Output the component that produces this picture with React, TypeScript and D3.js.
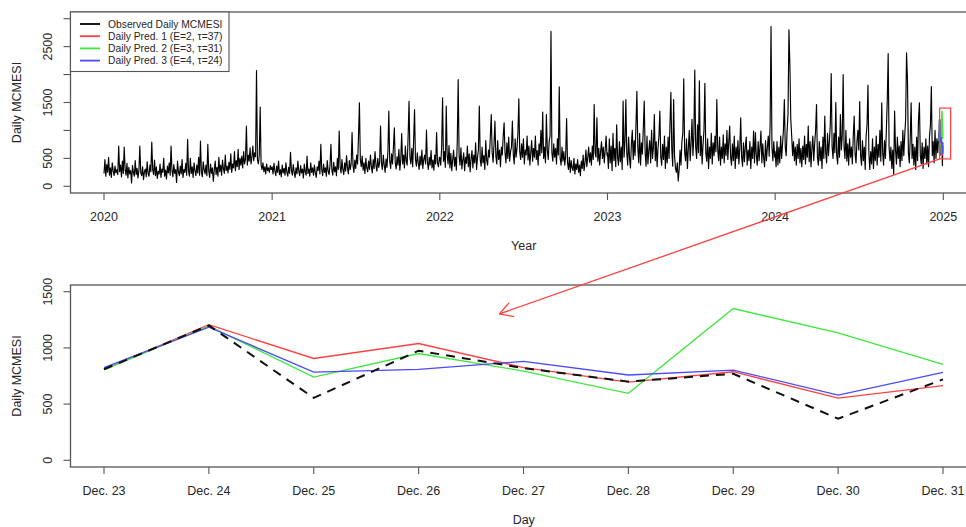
import React from 'react';
import * as d3 from 'd3';

// ---------- DATA ----------
const YEARS = [2020, 2021, 2022, 2023, 2024];
const obs2020 = [
  230,480,180,390,250,520,200,330,160,420,280,190,360,240,300,
  210,720,260,380,170,450,230,700,300,200,410,150,340,220,280,
  60,370,250,180,460,210,320,150,280,720,240,190,350,120,260,
  310,170,440,230,180,380,260,790,300,210,470,190,350,140,270,
  220,400,160,310,250,500,180,290,130,360,240,420,200,720,280,
  170,390,230,300,70,450,260,190,360,220,480,160,300,250,410,
  200,840,270,180,500,230,350,160,420,280,190,380,240,520,200,
  810,260,170,440,300,220,380,190,750,280,160,400,230,330,90,
  290,450,210,340,180,520,260,380,200,470,310,230,560,280,360,
  240,430,300,580,250,400,330,620,280,460,350,660,300,500,380,
  540,330,620,400,480,1080,380,560,450,690,400,520,720,460,600,
  530,2070,480,400,560,1420,380,300,420,260,350,220,400,280,330,
  250,370,300,
];
const obs2021 = [
  350,220,410,280,190,360,250,450,210,300,170,380,240,320,200,
  420,260,180,340,230,610,280,200,390,250,160,330,220,450,270,
  190,370,240,310,150,400,260,200,540,230,310,180,420,250,330,
  200,380,240,160,350,280,450,220,750,300,190,400,250,330,180,
  460,270,210,380,750,290,200,430,260,350,190,500,300,990,350,
  240,480,300,210,420,270,550,330,220,460,300,400,960,380,250,
  470,320,560,400,900,1495,480,350,540,290,420,230,500,330,260,
  450,300,560,350,240,480,320,620,380,270,500,340,430,1077,400,
  300,560,380,250,490,340,620,1345,450,320,580,400,700,1048,420,
  310,530,380,660,290,480,946,400,560,330,720,450,380,900,1523,
  520,400,680,350,820,1375,480,360,600,420,300,540,380,650,320,
  480,560,400,1005,430,300,520,380,640,330,470,290,560,400,960,
  420,350,520,
];
const obs2022 = [
  520,380,700,1583,450,620,340,1434,560,400,730,330,590,280,480,
  650,360,520,290,800,1910,540,380,690,310,470,600,280,520,410,
  720,350,580,260,490,640,330,560,420,780,300,510,650,1434,480,
  360,700,420,550,300,820,470,380,650,520,900,1285,600,430,760,
  1166,540,400,820,480,650,350,700,560,900,1137,600,420,780,500,
  880,450,620,700,1166,560,400,850,520,680,950,1566,620,480,760,
  520,850,400,650,560,900,470,720,380,600,820,450,680,520,900,
  480,640,380,760,550,1000,600,1327,500,700,420,1285,650,480,800,
  900,2773,600,450,760,520,680,400,850,560,1780,500,380,700,450,
  620,380,550,1214,420,300,520,250,460,330,280,500,220,400,300,
  480,250,380,190,450,320,560,280,420,650,350,520,700,430,600,
  380,720,480,1464,600,520,1226,450,680,380,620,800,500,700,420,
  650,900,550,
];
const obs2023 = [
  600,320,850,420,720,280,950,460,680,350,1100,520,380,800,440,
  700,300,1524,520,800,1553,600,380,880,500,330,760,1000,480,820,
  550,1100,1702,700,420,950,380,780,580,1050,1524,600,360,900,400,
  650,820,420,1000,500,700,1285,460,800,350,680,900,1345,520,380,
  750,480,900,320,700,420,880,500,1100,1680,650,360,1553,550,320,
  250,420,95,300,650,380,800,950,1923,600,460,850,320,680,1000,
  460,780,1200,550,900,2080,700,500,1100,600,1890,550,900,400,750,
  1000,1845,600,450,850,320,700,500,950,400,780,550,900,620,1553,
  650,460,880,380,700,500,920,420,760,550,1000,480,800,1077,520,
  380,760,460,900,320,700,500,820,400,680,1226,520,360,780,440,
  700,880,380,650,460,800,320,700,500,990,420,960,550,380,800,
  460,700,990,420,760,500,350,820,460,700,900,540,1100,2860,700,
  460,800,520,
];
const obs2024 = [
  620,350,800,380,700,420,900,500,750,1000,1553,700,550,1000,1300,
  2800,2200,1200,900,550,800,460,700,380,750,500,850,420,680,350,
  720,480,900,400,750,520,1077,440,800,350,680,900,460,760,1000,
  1464,520,380,800,460,700,320,880,500,1255,600,420,950,550,800,
  1100,2018,700,500,950,600,1500,550,400,880,520,1285,650,900,2000,
  700,500,1000,450,760,380,850,520,700,400,900,1255,580,420,800,
  1000,650,1515,550,380,820,460,700,300,900,1100,1810,600,300,620,
  400,850,320,700,460,900,380,750,520,1000,450,1494,600,380,820,
  500,1000,1524,2375,700,460,700,320,650,214,1345,650,400,880,500,
  720,350,800,460,1000,550,900,1200,2387,1910,600,420,850,1494,500,
  750,380,700,300,880,460,1196,1494,550,400,780,320,700,500,850,
  400,720,350,900,1100,1785,550,800,420,1000,500,850,600,950,
];

// Last 9 days (Dec 23 – Dec 31, 2024)
const DAY_LABELS = ['Dec. 23','Dec. 24','Dec. 25','Dec. 26','Dec. 27','Dec. 28','Dec. 29','Dec. 30','Dec. 31'];
const observedDec = [810, 1200, 555, 975, 820, 700, 770, 370, 720];
const pred1 = [810, 1206, 906, 1039, 825, 695, 788, 553, 665];
const pred2 = [805, 1195, 740, 950, 794, 596, 1350, 1133, 853];
const pred3 = [825, 1185, 785, 809, 880, 759, 803, 580, 783];

const LEGEND_LABELS = [
  'Observed Daily MCMESI',
  'Daily Pred. 1 (E=2, \u03c4=37)',
  'Daily Pred. 2 (E=3, \u03c4=31)',
  'Daily Pred. 3 (E=4, \u03c4=24)',
];
const COLORS = ['#000000', '#ff4040', '#3ee83e', '#4a4aff'];

const TOP_Y_TICKS = [0, 500, 1000, 1500, 2000, 2500, 3000];
const TOP_Y_LABELS = [0, 500, 1500, 2500];
const YEAR_TICKS = [2020, 2021, 2022, 2023, 2024, 2025];
const BOTTOM_Y_TICKS = [0, 500, 1000, 1500];

// Highlight box around the last days in the top panel, and arrow target in the bottom panel
const ZOOM_START = new Date(2024, 11, 24);
const ZOOM_END = new Date(2025, 0, 17);
const ZOOM_LOW = 490;
const ZOOM_HIGH = 1400;
const ARROW_END_DAY = 3.77;
const ARROW_END_VALUE = 1302;

const FONT = "'Liberation Sans', Arial, Helvetica, sans-serif";

export default function App() {
  const W = 966, H = 527;
  const boxLeft = 70.5, boxRight = 977;
  const topY0 = 12, topY1 = 193;
  const botY0 = 285, botY1 = 467;

  const xTop = d3.scaleTime().domain([new Date(2020, 0, 1), new Date(2025, 0, 1)]).range([104, 943.3]);
  const yTop = d3.scaleLinear().domain([0, 3000]).range([186.3, 18.7]);
  const xBot = d3.scaleLinear().domain([0, DAY_LABELS.length - 1]).range([104, 943]);
  const yBot = d3.scaleLinear().domain([0, 1500]).range([460.3, 291.7]);

  // Build observed series
  const topSeries: { date: Date; value: number }[] = [];
  [obs2020, obs2021, obs2022, obs2023, obs2024].forEach((arr, k) => {
    const start = new Date(YEARS[k], 0, 1);
    arr.forEach((v, i) => topSeries.push({ date: d3.timeDay.offset(start, 2 * i), value: v }));
  });
  const decStart = new Date(2024, 11, 23);
  const decDates = observedDec.map((_, i) => d3.timeDay.offset(decStart, i));
  observedDec.forEach((v, i) => topSeries.push({ date: decDates[i], value: v }));

  const topLine = d3.line<{ date: Date; value: number }>().x(d => xTop(d.date)).y(d => yTop(d.value));
  const decLine = d3.line<number>().x((_, i) => xTop(decDates[i])).y(d => yTop(d));
  const botLine = d3.line<number>().x((_, i) => xBot(i)).y(d => yBot(d));

  const preds = [pred1, pred2, pred3];

  // Arrow
  const ax0 = xTop(ZOOM_START), ay0 = yTop(ZOOM_LOW);
  const ax1 = xBot(ARROW_END_DAY), ay1 = yBot(ARROW_END_VALUE);
  const ang = Math.atan2(ay0 - ay1, ax0 - ax1);
  const headLen = 15;
  const h1 = [ax1 + headLen * Math.cos(ang + Math.PI / 6), ay1 + headLen * Math.sin(ang + Math.PI / 6)];
  const h2 = [ax1 + headLen * Math.cos(ang - Math.PI / 6), ay1 + headLen * Math.sin(ang - Math.PI / 6)];

  const textColor = '#262626';
  const axisColor = '#555';
  const tickFs = 12.5;

  return (
    <svg width={W} height={H} style={{ position: 'absolute', left: 0, top: 0, background: '#fff' }} fontFamily={FONT}>
      <rect x={0} y={0} width={W} height={H} fill="#fff" />

      {/* ---------- TOP PANEL ---------- */}
      <path d={topLine(topSeries) || ''} fill="none" stroke="#000" strokeWidth={1.15} strokeLinejoin="round" />
      {preds.map((p, k) => (
        <path key={k} d={decLine(p) || ''} fill="none" stroke={COLORS[k + 1]} strokeWidth={1.6} />
      ))}
      <rect x={xTop(ZOOM_START)} y={yTop(ZOOM_HIGH)} width={xTop(ZOOM_END) - xTop(ZOOM_START)}
        height={yTop(ZOOM_LOW) - yTop(ZOOM_HIGH)} fill="none" stroke="#ff4040" strokeWidth={1.2} />
      <rect x={boxLeft} y={topY0} width={boxRight - boxLeft} height={topY1 - topY0} fill="none" stroke={axisColor} strokeWidth={1.3} />

      {/* top y axis */}
      {TOP_Y_TICKS.map(t => (
        <line key={t} x1={boxLeft} x2={boxLeft - 7} y1={yTop(t)} y2={yTop(t)} stroke={axisColor} strokeWidth={1.1} />
      ))}
      {TOP_Y_LABELS.map(t => (
        <text key={t} transform={`translate(48.3,${yTop(t)}) rotate(-90)`} textAnchor="middle" dominantBaseline="central"
          fontSize={tickFs} fill={textColor}>{t}</text>
      ))}
      <text transform={`translate(17,${(topY0 + topY1) / 2}) rotate(-90)`} textAnchor="middle" dominantBaseline="central"
        fontSize={tickFs} fill={textColor}>Daily MCMESI</text>

      {/* top x axis */}
      {YEAR_TICKS.map(yr => (
        <g key={yr}>
          <line x1={xTop(new Date(yr, 0, 1))} x2={xTop(new Date(yr, 0, 1))} y1={topY1} y2={topY1 + 7} stroke={axisColor} strokeWidth={1.1} />
          <text x={xTop(new Date(yr, 0, 1))} y={216.5} textAnchor="middle" dominantBaseline="central" fontSize={tickFs} fill={textColor}>{yr}</text>
        </g>
      ))}
      <text x={(boxLeft + boxRight) / 2} y={245.7} textAnchor="middle" dominantBaseline="central" fontSize={tickFs} fill={textColor}>Year</text>

      {/* legend */}
      <rect x={boxLeft} y={topY0} width={158.5} height={59.5} fill="#fff" stroke={axisColor} strokeWidth={1.1} />
      {LEGEND_LABELS.map((lab, i) => {
        const ly = 24 + i * 12.2;
        return (
          <g key={lab}>
            <line x1={80} x2={100} y1={ly} y2={ly} stroke={COLORS[i]} strokeWidth={1.8} />
            <text x={108} y={ly} dominantBaseline="central" fontSize={10.3} fill={textColor}>{lab}</text>
          </g>
        );
      })}

      {/* ---------- BOTTOM PANEL ---------- */}
      {preds.map((p, k) => (
        <path key={k} d={botLine(p) || ''} fill="none" stroke={COLORS[k + 1]} strokeWidth={1.3} />
      ))}
      <path d={botLine(observedDec) || ''} fill="none" stroke="#111" strokeWidth={2} strokeDasharray="9,7" />
      <rect x={boxLeft} y={botY0} width={boxRight - boxLeft} height={botY1 - botY0} fill="none" stroke={axisColor} strokeWidth={1.3} />

      {BOTTOM_Y_TICKS.map(t => (
        <g key={t}>
          <line x1={boxLeft} x2={boxLeft - 7} y1={yBot(t)} y2={yBot(t)} stroke={axisColor} strokeWidth={1.1} />
          <text transform={`translate(48.3,${yBot(t)}) rotate(-90)`} textAnchor="middle" dominantBaseline="central"
            fontSize={tickFs} fill={textColor}>{t}</text>
        </g>
      ))}
      <text transform={`translate(17,${(botY0 + botY1) / 2}) rotate(-90)`} textAnchor="middle" dominantBaseline="central"
        fontSize={tickFs} fill={textColor}>Daily MCMESI</text>

      {DAY_LABELS.map((lab, i) => (
        <g key={lab}>
          <line x1={xBot(i)} x2={xBot(i)} y1={botY1} y2={botY1 + 7} stroke={axisColor} strokeWidth={1.1} />
          <text x={xBot(i)} y={490.7} textAnchor="middle" dominantBaseline="central" fontSize={tickFs} fill={textColor}>{lab}</text>
        </g>
      ))}
      <text x={(boxLeft + boxRight) / 2} y={520} textAnchor="middle" dominantBaseline="central" fontSize={tickFs} fill={textColor}>Day</text>

      {/* arrow */}
      <line x1={ax0} y1={ay0} x2={ax1} y2={ay1} stroke="#ff4040" strokeWidth={1.3} />
      <line x1={ax1} y1={ay1} x2={h1[0]} y2={h1[1]} stroke="#ff4040" strokeWidth={1.3} />
      <line x1={ax1} y1={ay1} x2={h2[0]} y2={h2[1]} stroke="#ff4040" strokeWidth={1.3} />
    </svg>
  );
}
